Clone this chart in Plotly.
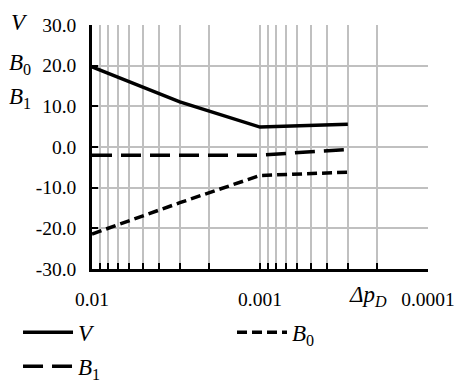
import plotly.graph_objects as go

x_vals = [0.01, 0.003, 0.001, 0.0003]
V = [19.7, 11.1, 4.9, 5.6]
B0 = [-21.4, -13.7, -7.0, -6.2]
B1 = [-2.0, -2.0, -2.0, -0.6]

y_ticks = [30, 20, 10, 0, -10, -20, -30]
y_ticktext = ["30.0", "20.0", "10.0", "0.0", "-10.0", "-20.0", "-30.0"]
x_ticks = [0.01, 0.001, 0.0001]
x_ticktext = ["0.01", "0.001", "0.0001"]
x_minor = [0.009, 0.008, 0.007, 0.006, 0.005, 0.004, 0.003, 0.002,
           0.0009, 0.0008, 0.0007, 0.0006, 0.0005, 0.0004, 0.0003, 0.0002]

FONT = "Liberation Serif"
tick_font = dict(family=FONT, size=19.5, color="black")

fig = go.Figure()
fig.add_trace(go.Scatter(x=x_vals, y=V, mode="lines", name="<i>V</i>",
                         legend="legend", legendgroup="v",
                         line=dict(color="black", width=3.5)))
fig.add_trace(go.Scatter(x=x_vals, y=B0, mode="lines", name="<i>B</i><sub>0</sub>",
                         legend="legend2", legendgroup="b0",
                         line=dict(color="black", width=3.5, dash="10px,5px")))
fig.add_trace(go.Scatter(x=x_vals, y=B1, mode="lines", name="<i>B</i><sub>1</sub>",
                         legend="legend", legendgroup="b1",
                         line=dict(color="black", width=3.5, dash="20px,9px")))

leg_common = dict(orientation="v", xref="container", yref="container",
                  xanchor="left", yanchor="top", y=0.205,
                  font=dict(family=FONT, size=23, color="black"),
                  itemwidth=50, tracegroupgap=1, bgcolor="rgba(0,0,0,0)")

fig.update_layout(
    width=466, height=381,
    margin=dict(l=84, r=46, t=17, b=120, autoexpand=False),
    paper_bgcolor="white", plot_bgcolor="white",
    showlegend=True,
    legend=dict(x=0.0215, **leg_common),
    legend2=dict(x=0.4807, **leg_common),
    xaxis=dict(type="log", range=[-2, -4], tickvals=x_ticks, ticktext=x_ticktext,
               tickfont=tick_font,
               showgrid=True, gridcolor="#c0c0c0", gridwidth=1.5,
               ticks="inside", ticklen=6, tickwidth=2, tickcolor="black",
               showline=True, linecolor="black", linewidth=2.5,
               minor=dict(tickvals=x_minor, showgrid=True, gridcolor="#c0c0c0",
                          gridwidth=1.5, ticks="inside", ticklen=6, tickwidth=2,
                          tickcolor="black"),
               zeroline=False, ticklabelstandoff=11, automargin=False),
    yaxis=dict(range=[-30, 30], tickvals=y_ticks, ticktext=y_ticktext,
               tickfont=tick_font,
               showgrid=True, gridcolor="#c0c0c0", gridwidth=1.5,
               ticks="inside", ticklen=6, tickwidth=2, tickcolor="black",
               showline=True, linecolor="black", linewidth=2.5,
               zeroline=False, ticklabelstandoff=9, automargin=False),
)

ann_font = dict(family=FONT, size=23, color="black")
for txt, yp in [("<i>V</i>", 1.01), ("<i>B</i><sub>0</sub>", 0.84), ("<i>B</i><sub>1</sub>", 0.70)]:
    fig.add_annotation(text=txt, x=-0.215, y=yp, xref="paper", yref="paper",
                       showarrow=False, font=ann_font, xanchor="center", yanchor="middle")
fig.add_annotation(text="<i>Δp</i><sub><i>D</i></sub>", x=0.82, y=-0.11, xref="paper", yref="paper",
                   showarrow=False, font=ann_font, xanchor="center", yanchor="middle")

fig.write_html("out.html")
